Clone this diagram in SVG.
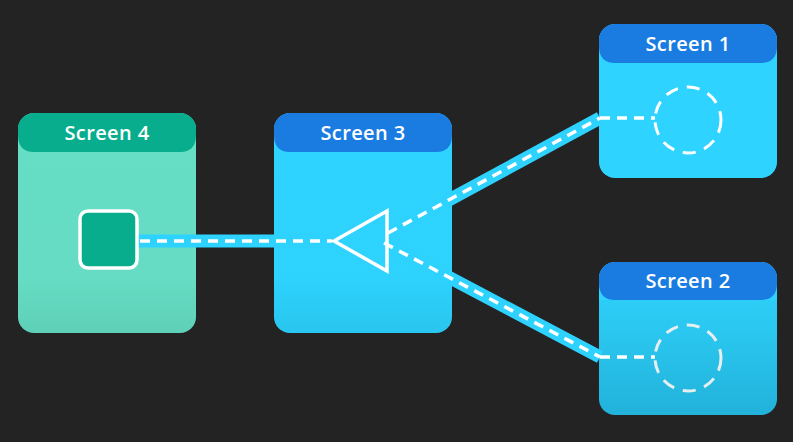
<svg xmlns="http://www.w3.org/2000/svg" width="793" height="442" viewBox="0 0 793 442">
<defs>
<style>
.hdr-blue{fill:#1a7ce0}
.hdr-green{fill:#07ad8c}
.lbl{font-family:"Open Sans","DejaVu Sans",sans-serif;font-size:20px;font-weight:600;fill:#ffffff;text-anchor:middle;letter-spacing:0.4px}
.band{stroke:#2dd2fe;stroke-width:13;fill:none}
.dash{stroke:#ffffff;stroke-width:3.5;fill:none;stroke-dasharray:10 7}
.ring{fill:none;stroke-width:3;stroke-dasharray:13 9}
</style>
<linearGradient id="gBlue" x1="0" y1="0" x2="0" y2="1">
<stop offset="0" stop-color="#2ed4ff"/>
<stop offset="0.75" stop-color="#2dd2fd"/>
<stop offset="1" stop-color="#29c6ef"/>
</linearGradient>
<linearGradient id="gBlue2" x1="0" y1="0" x2="0" y2="1">
<stop offset="0" stop-color="#2ed4ff"/>
<stop offset="0.4" stop-color="#2bc9f2"/>
<stop offset="1" stop-color="#22b2da"/>
</linearGradient>
<linearGradient id="gGreen" x1="0" y1="0" x2="0" y2="1">
<stop offset="0" stop-color="#66dec5"/>
<stop offset="0.75" stop-color="#65dcc3"/>
<stop offset="1" stop-color="#5fd0b8"/>
</linearGradient>
</defs>
<rect width="793" height="442" fill="#232323"/>

<g id="screen4">
<rect x="18" y="113" width="178" height="220" rx="16" fill="url(#gGreen)"/>
<path d="M18 152 V129 a16 16 0 0 1 16 -16 H180 a16 16 0 0 1 16 16 V152 Z" class="hdr-green"/>
<path d="M18 135 V152 H196 V135 Q196 152 180 152 H34 Q18 152 18 135Z" fill="#66dec5"/>
<text x="107" y="140" class="lbl">Screen 4</text>
</g>

<g id="screen3">
<rect x="274" y="113" width="178" height="220" rx="16" fill="url(#gBlue)"/>
<path d="M274 152 V129 a16 16 0 0 1 16 -16 H436 a16 16 0 0 1 16 16 V152 Z" class="hdr-blue"/>
<path d="M274 135 V152 H452 V135 Q452 152 436 152 H290 Q274 152 274 135Z" fill="#2ed4ff"/>
<text x="363" y="140" class="lbl">Screen 3</text>
</g>

<g id="screen1">
<rect x="599" y="24" width="178" height="154" rx="16" fill="#2ed4ff"/>
<path d="M599 63 V40 a16 16 0 0 1 16 -16 H761 a16 16 0 0 1 16 16 V63 Z" class="hdr-blue"/>
<path d="M599 46 V63 H777 V46 Q777 63 761 63 H615 Q599 63 599 46Z" fill="#2ed4ff"/>
<text x="688" y="51" class="lbl">Screen 1</text>
</g>

<g id="screen2">
<rect x="599" y="262" width="178" height="153" rx="16" fill="url(#gBlue2)"/>
<path d="M599 300 V278 a16 16 0 0 1 16 -16 H761 a16 16 0 0 1 16 16 V300 Z" class="hdr-blue"/>
<path d="M599 283 V300 H777 V283 Q777 300 761 300 H615 Q599 300 599 283Z" fill="#2ed4ff"/>
<text x="688" y="288" class="lbl">Screen 2</text>
</g>

<g id="connectors">
<line x1="138" y1="241" x2="334" y2="241" class="band"/>
<line x1="388" y1="233" x2="600" y2="118" class="band"/>
<line x1="384" y1="243" x2="600" y2="357" class="band"/>
<line x1="140" y1="241" x2="332" y2="241" class="dash"/>
<line x1="388" y1="233" x2="600" y2="118" class="dash"/>
<line x1="600" y1="118" x2="655" y2="118" class="dash"/>
<line x1="384" y1="243" x2="600" y2="357" class="dash"/>
<line x1="600" y1="357" x2="655" y2="357" class="dash"/>
</g>

<g id="shapes">
<rect x="80" y="211" width="57" height="57" rx="8" fill="#07ad8c" stroke="#ffffff" stroke-width="3.5"/>
<polygon points="334,241 387,211 387,271" fill="none" stroke="#ffffff" stroke-width="3.5" stroke-linejoin="miter"/>
<circle cx="688" cy="120" r="33" class="ring" stroke="#ffffff"/>
<circle cx="688" cy="358" r="33" class="ring" stroke="#e6eef0"/>
</g>
</svg>
